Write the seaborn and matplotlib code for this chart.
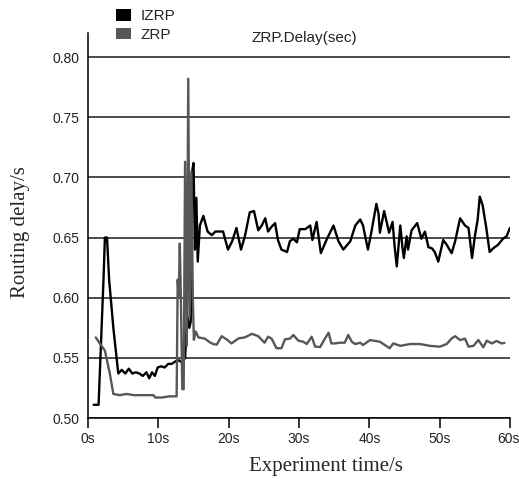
import numpy as np
import pandas as pd
import matplotlib
matplotlib.use("Agg")
import matplotlib.pyplot as plt
import matplotlib.transforms as mtransforms
from matplotlib.patches import Patch
import seaborn as sns

# ---------------------------------------------------------------
# data
# ---------------------------------------------------------------
izrp_time = [0.8, 1.5, 2.2, 2.4, 2.7, 3.0, 3.6, 4.3, 4.8, 5.3, 5.8, 6.3, 6.8, 7.3,
             7.8, 8.3, 8.7, 9.1, 9.5, 9.9, 10.4, 10.9, 11.4, 11.9, 12.4, 12.9,
             13.4, 13.8, 14.1, 14.4, 14.6, 14.8, 15.0, 15.2, 15.4, 15.6, 15.9,
             16.4, 17.0, 17.6, 18.1, 19.2, 19.9, 20.5, 21.1, 21.75, 22.3, 23.0,
             23.6, 24.2, 24.7, 25.2, 25.6, 26.1, 26.6, 27.0, 27.5, 28.3, 28.7,
             29.2, 29.7, 30.1, 30.9, 31.6, 31.9, 32.5, 33.1, 33.9, 34.9, 35.6,
             36.3, 37.3, 38.0, 38.7, 39.1, 39.8, 40.3, 41.0, 41.3, 41.5, 42.1,
             42.5, 42.8, 43.3, 43.6, 43.9, 44.4, 44.7, 44.9, 45.3, 45.5, 46.0,
             46.8, 47.4, 47.9, 48.4, 48.9, 49.3, 49.8, 50.5, 51.0, 51.7, 52.2,
             52.9, 53.6, 54.1, 54.6, 55.0, 55.4, 55.7, 56.1, 56.6, 57.1, 57.6,
             58.3, 59.0, 59.5, 60.0]
izrp_delay = [0.511, 0.511, 0.615, 0.650, 0.650, 0.615, 0.575, 0.537, 0.540, 0.537,
              0.541, 0.537, 0.538, 0.537, 0.535, 0.538, 0.533, 0.538, 0.535, 0.542,
              0.543, 0.542, 0.545, 0.545, 0.547, 0.548, 0.546, 0.550, 0.585, 0.575,
              0.580, 0.705, 0.712, 0.640, 0.683, 0.630, 0.660, 0.668, 0.655, 0.652,
              0.655, 0.655, 0.640, 0.647, 0.658, 0.640, 0.651, 0.671, 0.672, 0.656,
              0.660, 0.666, 0.655, 0.659, 0.662, 0.648, 0.640, 0.638, 0.647, 0.649,
              0.646, 0.657, 0.657, 0.660, 0.648, 0.663, 0.637, 0.648, 0.660, 0.647,
              0.640, 0.647, 0.660, 0.665, 0.660, 0.640, 0.655, 0.678, 0.670, 0.654,
              0.672, 0.662, 0.654, 0.663, 0.642, 0.626, 0.660, 0.642, 0.633, 0.651,
              0.640, 0.656, 0.662, 0.649, 0.655, 0.642, 0.641, 0.638, 0.630, 0.648,
              0.644, 0.637, 0.647, 0.666, 0.660, 0.658, 0.633, 0.651, 0.665, 0.684,
              0.677, 0.659, 0.638, 0.641, 0.644, 0.649, 0.651, 0.658]

zrp_time = [1.1, 1.8, 2.4, 3.1, 3.6, 4.5, 5.5, 6.5, 7.5, 8.5, 9.3, 9.6, 10.5, 11.5,
            12.6, 12.75, 12.9, 13.05, 13.2, 13.4, 13.6, 13.8, 14.05, 14.25, 14.45,
            14.7, 14.9, 15.05, 15.3, 15.7, 16.6, 17.3, 17.8, 18.3, 19.0, 19.7, 20.4,
            21.4, 22.3, 23.3, 24.2, 25.1, 25.6, 26.1, 26.8, 27.5, 28.0, 28.7, 29.2,
            29.9, 30.6, 31.1, 31.8, 32.3, 33.0, 33.7, 34.2, 34.6, 35.1, 35.8, 36.5,
            37.0, 37.5, 38.0, 38.7, 39.1, 40.1, 41.5, 42.9, 43.4, 44.4, 45.8, 47.2,
            48.6, 50.0, 51.0, 51.7, 52.2, 52.9, 53.6, 54.1, 54.8, 55.5, 56.2, 56.7,
            57.4, 58.1, 58.8, 59.2]
zrp_delay = [0.567, 0.561, 0.556, 0.537, 0.520, 0.519, 0.520, 0.519, 0.519, 0.519,
             0.519, 0.517, 0.517, 0.518, 0.518, 0.615, 0.600, 0.645, 0.600, 0.524,
             0.524, 0.713, 0.560, 0.782, 0.585, 0.705, 0.600, 0.565, 0.572, 0.567,
             0.566, 0.563, 0.5615, 0.561, 0.568, 0.5654, 0.562, 0.5662, 0.567, 0.570,
             0.568, 0.5626, 0.5676, 0.566, 0.558, 0.558, 0.5654, 0.566, 0.569, 0.5643,
             0.5634, 0.5615, 0.5676, 0.5593, 0.559, 0.5662, 0.5709, 0.562, 0.562,
             0.5626, 0.5626, 0.569, 0.5634, 0.5615, 0.5626, 0.5607, 0.5648, 0.5634,
             0.558, 0.562, 0.560, 0.5615, 0.5615, 0.560, 0.5593, 0.5615, 0.5662,
             0.568, 0.5648, 0.566, 0.5593, 0.560, 0.5648, 0.5588, 0.5643, 0.562,
             0.564, 0.562, 0.5625]

y_ticks = [0.50, 0.55, 0.60, 0.65, 0.70, 0.75, 0.80]
x_ticks = [0, 10, 20, 30, 40, 50, 60]
x_ticklabels = ["0s", "10s", "20s", "30s", "40s", "50s", "60s"]
colors = {"IZRP": "#000000", "ZRP": "#575757"}

df = pd.concat([
    pd.DataFrame({"time": izrp_time, "delay": izrp_delay, "protocol": "IZRP"}),
    pd.DataFrame({"time": zrp_time, "delay": zrp_delay, "protocol": "ZRP"}),
], ignore_index=True)

# ---------------------------------------------------------------
# plot
# ---------------------------------------------------------------
sns.set_style("white")
plt.rcParams["font.family"] = ["Liberation Sans", "DejaVu Sans"]

fig = plt.figure(figsize=(5.19, 4.79), dpi=100)
ax = fig.add_axes([0.1696, 0.1273, 0.8131, 0.8038])

sns.lineplot(data=df, x="time", y="delay", hue="protocol", palette=colors,
             estimator=None, sort=False, linewidth=1.7, legend=False, ax=ax)

ax.set_xlim(0, 60)
ax.set_ylim(0.50, 0.82)
ax.set_yticks(y_ticks)
ax.set_yticklabels([f"{v:.2f}" for v in y_ticks])
ax.set_xticks(x_ticks)
ax.set_xticklabels(x_ticklabels)
ax.yaxis.grid(True, color="#1a1a1a", linewidth=1.1)
ax.set_axisbelow(True)

for side in ["top", "right"]:
    ax.spines[side].set_visible(False)
for side in ["left", "bottom"]:
    ax.spines[side].set_color("black")
    ax.spines[side].set_linewidth(1.1)

ax.tick_params(axis="y", length=0, pad=6, labelsize=10, labelcolor="#222222")
ax.tick_params(axis="x", direction="out", length=7, width=1.1, color="black",
               pad=3, labelsize=10, labelcolor="#222222", bottom=True)

# keep the last x label inside the canvas
last = ax.get_xticklabels()[-1]
last.set_transform(last.get_transform() +
                   mtransforms.ScaledTranslation(-2 / 100, 0, fig.dpi_scale_trans))

ax.set_xlabel("Experiment time/s", family="Liberation Serif", fontsize=15, va="center")
ax.xaxis.set_label_coords(0.564, -0.126)
ax.set_ylabel("Routing delay/s", family="Liberation Serif", fontsize=15, va="center")
ax.yaxis.set_label_coords(-0.161, 0.482)

fig.text(251 / 519, 1 - 38 / 479, "ZRP.Delay(sec)", fontsize=11, va="center",
         ha="left", color="#222222")

handles = [Patch(facecolor=colors[k], edgecolor="none") for k in ["IZRP", "ZRP"]]
fig.legend(handles, ["IZRP", "ZRP"], loc="upper left",
           bbox_to_anchor=(116 / 519, 1 - 9 / 479), frameon=False,
           fontsize=11, handlelength=1.0, handleheight=0.8, handletextpad=0.6,
           labelspacing=0.3, borderpad=0, borderaxespad=0)

fig.savefig("out.png", dpi=100)
print("[INFO] Saved out.png")
